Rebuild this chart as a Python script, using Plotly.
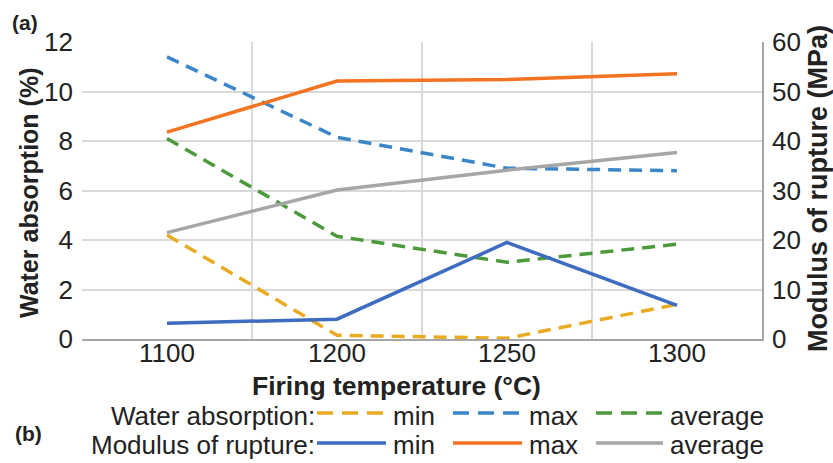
import plotly.graph_objects as go

# Firing temperatures (categorical x axis)
temperatures = ["1100", "1200", "1250", "1300"]

# Water absorption (%) - left axis
wa_min = [4.2, 0.15, 0.03, 1.4]
wa_max = [11.4, 8.15, 6.9, 6.8]
wa_avg = [8.1, 4.15, 3.1, 3.83]

# Modulus of rupture (MPa) - right axis
mor_min = [3.2, 4.0, 19.5, 6.8]
mor_max = [41.8, 52.1, 52.4, 53.6]
mor_avg = [21.5, 30.1, 34.1, 37.7]

left_ticks = [0, 2, 4, 6, 8, 10, 12]
right_ticks = [0, 10, 20, 30, 40, 50, 60]

W, H = 833, 463
L, R, T, B = 82, 762, 42, 339  # plot area in pixels

FONT = "Liberation Sans, Arial, sans-serif"
TXT = "#222222"
DASH = "13px,8px"
TICK_SIZE = 26
KEY_SIZE = 26

water_series = [
    ("min", wa_min, "#E9AB22"),
    ("max", wa_max, "#3A86C8"),
    ("average", wa_avg, "#4C9A3B"),
]
mor_series = [
    ("min", mor_min, "#3D6CC0"),
    ("max", mor_max, "#F37321"),
    ("average", mor_avg, "#A6A6A6"),
]


def px(xp):
    return (xp - L) / (R - L)


def py(yp):
    return (B - yp) / (B - T)


fig = go.Figure()

for name, vals, color in mor_series:
    fig.add_trace(go.Scatter(
        x=temperatures, y=vals, yaxis="y2", mode="lines", name=name,
        line=dict(color=color, width=3.5), showlegend=False))

for name, vals, color in water_series:
    fig.add_trace(go.Scatter(
        x=temperatures, y=vals, yaxis="y", mode="lines", name=name,
        line=dict(color=color, width=3.5, dash=DASH), showlegend=False))

annotations = []
shapes = []

# Axis titles and panel labels
annotations.append(dict(text="<b>Water absorption (%)</b>", x=px(29), y=py(193),
                        xref="paper", yref="paper", textangle=-90, showarrow=False,
                        xanchor="center", yanchor="middle",
                        font=dict(family=FONT, size=25, color=TXT)))
annotations.append(dict(text="<b>Modulus of rupture (MPa)</b>", x=px(818), y=py(189),
                        xref="paper", yref="paper", textangle=-90, showarrow=False,
                        xanchor="center", yanchor="middle",
                        font=dict(family=FONT, size=27, color=TXT)))
annotations.append(dict(text="<b>Firing temperature (°C)</b>", x=px(396), y=py(386),
                        xref="paper", yref="paper", showarrow=False,
                        xanchor="center", yanchor="middle",
                        font=dict(family=FONT, size=26.5, color=TXT)))
annotations.append(dict(text="<b>(a)</b>", x=px(10), y=py(23), xref="paper", yref="paper",
                        showarrow=False, xanchor="left", yanchor="middle",
                        font=dict(family=FONT, size=21, color=TXT)))
annotations.append(dict(text="<b>(b)</b>", x=px(13), y=py(433), xref="paper", yref="paper",
                        showarrow=False, xanchor="left", yanchor="middle",
                        font=dict(family=FONT, size=21, color=TXT)))

# Two-row key: one row per property
key_rows = [
    ("Water absorption:", water_series, True, 413, 416),
    ("Modulus of rupture:", mor_series, False, 443, 445),
]
key_x = [(317, 386), (453, 522), (596, 663)]
for label, series, dashed, yline, ytext in key_rows:
    annotations.append(dict(text=label, x=px(317), y=py(ytext), xref="paper", yref="paper",
                            showarrow=False, xanchor="right", yanchor="middle",
                            font=dict(family=FONT, size=KEY_SIZE, color=TXT)))
    for (name, _, color), (x0, x1) in zip(series, key_x):
        line = dict(color=color, width=3.5)
        if dashed:
            line["dash"] = "16px,9px"
        shapes.append(dict(type="line", xref="paper", yref="paper",
                           x0=px(x0), x1=px(x1), y0=py(yline), y1=py(yline), line=line))
        annotations.append(dict(text=name, x=px(x1 + 5), y=py(ytext), xref="paper",
                                yref="paper", showarrow=False, xanchor="left",
                                yanchor="middle",
                                font=dict(family=FONT, size=KEY_SIZE, color=TXT)))

fig.update_layout(
    width=W, height=H,
    margin=dict(l=L, r=W - R, t=T, b=H - B, pad=0),
    paper_bgcolor="white", plot_bgcolor="white",
    font=dict(family=FONT, color=TXT),
    xaxis=dict(type="category", range=[-0.5, 3.5], tickson="boundaries",
               showgrid=True, gridcolor="#D9D9D9", gridwidth=1.5,
               ticks="", ticklen=0, showline=True, linecolor="#A6A6A6", linewidth=1.5,
               tickfont=dict(size=TICK_SIZE, family=FONT, color=TXT),
               ticklabelstandoff=-10, zeroline=False),
    yaxis=dict(range=[0, 12], tickvals=left_ticks, showgrid=True,
               gridcolor="#D9D9D9", gridwidth=1.5, ticks="", ticklen=0, showline=False,
               zeroline=False, tickfont=dict(size=TICK_SIZE, family=FONT, color=TXT),
               ticklabelstandoff=8),
    yaxis2=dict(range=[0, 60], tickvals=right_ticks, overlaying="y", side="right",
                showgrid=False, ticks="", ticklen=0, showline=True, linecolor="#A6A6A6",
                linewidth=1.5, zeroline=False,
                tickfont=dict(size=TICK_SIZE, family=FONT, color=TXT),
                ticklabelstandoff=3),
    annotations=annotations,
    shapes=shapes,
    showlegend=False,
)

fig.write_html("out.html")
